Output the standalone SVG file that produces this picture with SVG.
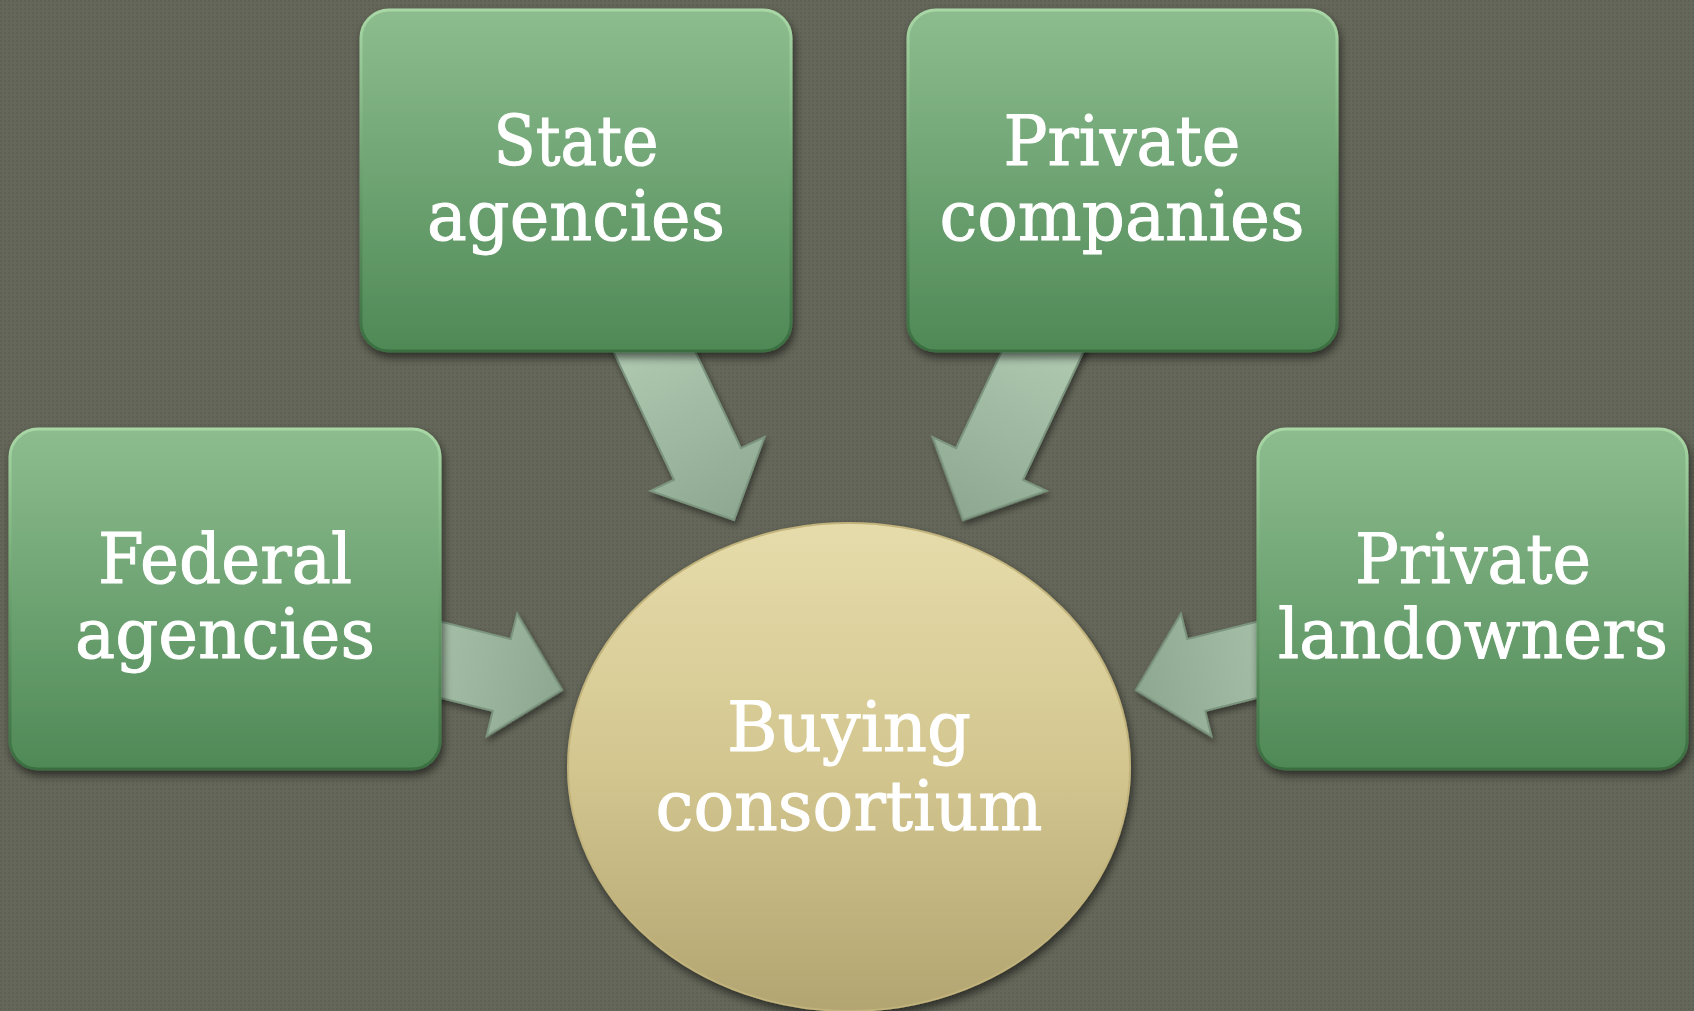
<svg xmlns="http://www.w3.org/2000/svg" width="1694" height="1011" viewBox="0 0 1694 1011">
  <defs>
    <pattern id="bgdots" width="4" height="4" patternUnits="userSpaceOnUse">
      <rect width="4" height="4" fill="#65675a"/>
      <rect x="0" y="0" width="2" height="2" fill="#5f6154"/>
    </pattern>
    <linearGradient id="boxFill" x1="0" y1="0" x2="0" y2="1">
      <stop offset="0" stop-color="#8dbd8f"/>
      <stop offset="1" stop-color="#4f8956"/>
    </linearGradient>
    <linearGradient id="boxEdge" x1="0" y1="0" x2="0" y2="1">
      <stop offset="0" stop-color="#a9d8a6"/>
      <stop offset="0.5" stop-color="#6aa06d"/>
      <stop offset="1" stop-color="#3a6d40"/>
    </linearGradient>
    <linearGradient id="circFill" x1="0" y1="0" x2="0" y2="1">
      <stop offset="0" stop-color="#e6dcab"/>
      <stop offset="0.5" stop-color="#d3c68f"/>
      <stop offset="1" stop-color="#b2a571"/>
    </linearGradient>
    <linearGradient id="arrowFill" gradientUnits="userSpaceOnUse" x1="-240" y1="0" x2="0" y2="0">
      <stop offset="0" stop-color="#b6d0b7"/>
      <stop offset="1" stop-color="#8ea791"/>
    </linearGradient>
    <filter id="shadow" x="-20%" y="-20%" width="140%" height="150%">
      <feGaussianBlur in="SourceAlpha" stdDeviation="4"/>
      <feOffset dx="2" dy="5" result="b"/>
      <feComponentTransfer><feFuncA type="linear" slope="0.55"/></feComponentTransfer>
      <feMerge><feMergeNode/><feMergeNode in="SourceGraphic"/></feMerge>
    </filter>
    <filter id="ashadow" x="-30%" y="-30%" width="160%" height="160%">
      <feGaussianBlur in="SourceAlpha" stdDeviation="3"/>
      <feOffset dx="2" dy="4" result="b"/>
      <feComponentTransfer><feFuncA type="linear" slope="0.45"/></feComponentTransfer>
      <feMerge><feMergeNode/><feMergeNode in="SourceGraphic"/></feMerge>
    </filter>
    <path id="arrowShape" d="M0,0 L-62,-63 L-62,-37 L-240,-37 L-240,37 L-62,37 L-62,63 Z"/>
    <style>
      .box { fill: url(#boxFill); stroke: url(#boxEdge); stroke-width: 3; }
      .arrow { fill: url(#arrowFill); stroke: #7b957f; stroke-width: 2; stroke-linejoin: miter; }
      .lbl { font-family: "DejaVu Serif", "Liberation Serif", serif; font-size: 70px; fill: #ffffff; stroke: #ffffff; stroke-width: 1; text-anchor: middle; }
    </style>
  </defs>

  <rect width="1694" height="1011" fill="url(#bgdots)"/>

  <g id="connectors" filter="url(#ashadow)">
    <use href="#arrowShape" class="arrow" transform="translate(734,520) rotate(64.7)"/>
    <use href="#arrowShape" class="arrow" transform="translate(963,520) rotate(115.3)"/>
    <use href="#arrowShape" class="arrow" transform="translate(562,690) rotate(14)"/>
    <use href="#arrowShape" class="arrow" transform="translate(1136,690) rotate(166)"/>
  </g>

  <g id="state-agencies" filter="url(#shadow)">
    <rect class="box" x="361" y="10" width="430" height="341" rx="28"/>
    <text class="lbl" x="576" y="165" textLength="165" lengthAdjust="spacingAndGlyphs">State</text>
    <text class="lbl" x="576" y="240" textLength="298" lengthAdjust="spacingAndGlyphs">agencies</text>
  </g>

  <g id="private-companies" filter="url(#shadow)">
    <rect class="box" x="908" y="10" width="429" height="341" rx="28"/>
    <text class="lbl" x="1122" y="165" textLength="237" lengthAdjust="spacingAndGlyphs">Private</text>
    <text class="lbl" x="1122" y="240" textLength="365" lengthAdjust="spacingAndGlyphs">companies</text>
  </g>

  <g id="federal-agencies" filter="url(#shadow)">
    <rect class="box" x="10" y="429" width="430" height="340" rx="28"/>
    <text class="lbl" x="225" y="583" textLength="254" lengthAdjust="spacingAndGlyphs">Federal</text>
    <text class="lbl" x="225" y="658" textLength="300" lengthAdjust="spacingAndGlyphs">agencies</text>
  </g>

  <g id="private-landowners" filter="url(#shadow)">
    <rect class="box" x="1258" y="429" width="429" height="340" rx="28"/>
    <text class="lbl" x="1473" y="583" textLength="236" lengthAdjust="spacingAndGlyphs">Private</text>
    <text class="lbl" x="1473" y="658" textLength="390" lengthAdjust="spacingAndGlyphs">landowners</text>
  </g>

  <g id="buying-consortium" filter="url(#shadow)">
    <ellipse cx="849" cy="767" rx="281" ry="244" fill="url(#circFill)" stroke="#c2b47c" stroke-width="2"/>
    <text class="lbl" x="849" y="751" textLength="244" lengthAdjust="spacingAndGlyphs">Buying</text>
    <text class="lbl" x="849" y="830" textLength="387" lengthAdjust="spacingAndGlyphs">consortium</text>
  </g>
</svg>
